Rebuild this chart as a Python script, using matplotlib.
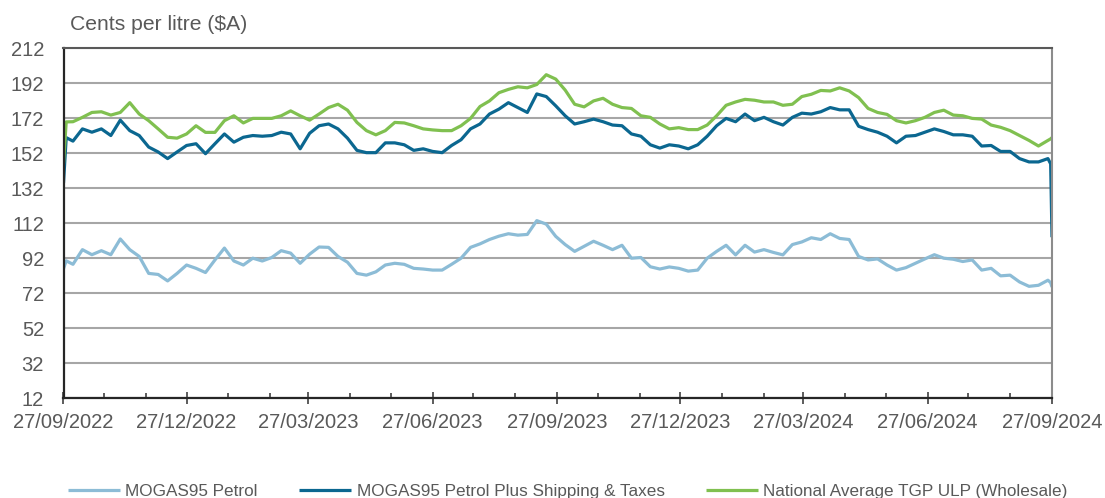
import matplotlib
matplotlib.use("Agg")
import matplotlib.pyplot as plt
import matplotlib.dates as mdates
import pandas as pd
import numpy as np

plt.rcParams['font.family'] = ['Liberation Sans', 'DejaVu Sans']

# ---- data ----
start = pd.Timestamp('2022-09-27')
sample_dates = ([start, start + pd.Timedelta(days=2)]
                + list(pd.date_range('2022-10-04', periods=104, freq='7D'))
                + [pd.Timestamp('2024-09-26'), pd.Timestamp('2024-09-27')])

mogas = [86, 90.5,
         88.5, 96.9, 94, 96.3, 94, 103, 96.9, 93, 83.3, 82.7,
         79, 83.3, 88.1, 86.2, 83.8, 91, 97.8, 90.4, 88.1, 92,
         90.4, 92.4, 96.3, 94.9, 89.1, 94.3, 98.4, 98.2, 93, 89.7,
         83.3, 82.3, 84.2, 88.1, 89.1, 88.5, 86.2, 85.8, 85.2, 85.2,
         88.5, 92, 98.2, 100.2, 102.7, 104.6, 106, 105.2, 105.6, 113.5,
         111.5, 104.5, 99.8, 95.9, 98.8, 101.7, 99.4, 96.9, 99.4, 92,
         92.4, 87.1, 85.8, 87, 86.2, 84.6, 85.2, 92, 95.9, 99.4,
         93.9, 99.4, 95.5, 96.9, 95.3, 93.9, 99.8, 101.3, 103.7, 102.7,
         106, 103.3, 102.7, 93, 91, 91.6, 88.1, 85.2, 86.6, 89.1,
         91.6, 94, 92, 91.4, 90.1, 91, 85.2, 86.2, 81.9, 82.3,
         78.4, 75.9, 76.5, 79.4,
         78, 75.5]

mogas_plus = [135, 161,
              159, 166, 164.1, 166, 162.2, 171, 165, 162.2, 155.6, 152.8,
              149, 152.8, 156.5, 157.5, 151.8, 157.5, 163.1, 158.4, 161.2, 162.2,
              161.8, 162.2, 164.1, 163.1, 154.6, 163.5, 167.8, 168.8, 166, 160.7,
              153.7, 152.4, 152.4, 158, 158, 156.9, 153.7, 154.6, 153.1, 152.4,
              156.5, 159.8, 166, 168.8, 174.5, 177.3, 181, 178.2, 175.4, 186,
              184.5, 179.2, 173.5, 168.8, 170.1, 171.6, 170.1, 168.2, 167.8, 163.1,
              161.8, 156.9, 155, 156.9, 156.2, 154.6, 156.9, 161.8, 167.8, 172,
              170.1, 174.5, 170.7, 172.6, 170.1, 168.2, 172.6, 175, 174.5, 175.8,
              178.2, 176.9, 176.9, 167.5, 165.6, 164.1, 161.8, 158, 161.8, 162.2,
              164.1, 166, 164.5, 162.6, 162.6, 161.8, 156.2, 156.5, 153.1, 153.1,
              149, 147.1, 147.1, 149,
              146, 104]

tgp = [146, 170,
       170.1, 172.6, 175.4, 175.8, 173.9, 175.4, 181, 174.5, 170.7, 166,
       161.2, 160.7, 163.1, 167.8, 164, 164, 170.7, 173.5, 169.4, 172,
       172, 172, 173.5, 176.3, 173.5, 171, 174.5, 178.2, 180.1, 176.7,
       169.7, 165, 162.6, 165, 169.7, 169.4, 167.8, 166, 165.4, 165,
       165, 167.8, 172, 178.8, 182, 186.7, 188.6, 190.1, 189.5, 191.4,
       197, 194.5, 188.2, 180.1, 178.6, 182, 183.5, 180.1, 178.2, 177.7,
       173.5, 172.6, 168.8, 166, 166.7, 165.6, 165.6, 168.2, 173.5, 179.5,
       181.4, 182.9, 182.4, 181.4, 181.4, 179.5, 180.1, 184.5, 185.8, 188,
       187.7, 189.5, 187.7, 183.9, 177.7, 175.4, 174.3, 170.7, 169.4, 170.7,
       172.6, 175.4, 176.7, 173.9, 173.5, 172, 171.6, 168.2, 166.9, 165,
       162.2, 159.4, 156.2, 159.4,
       160.3, 161]

series_names = ['MOGAS95 Petrol', 'MOGAS95 Petrol Plus Shipping & Taxes',
                'National Average TGP ULP (Wholesale)']
series_colors = ['#8CBCD6', '#0B6790', '#80C050']

major_labels = ['27/09/2022', '27/12/2022', '27/03/2023', '27/06/2023', '27/09/2023',
                '27/12/2023', '27/03/2024', '27/06/2024', '27/09/2024']
y_ticks = [12, 32, 52, 72, 92, 112, 132, 152, 172, 192, 212]

# ---- figure ----
W, H = 1105, 498
fig = plt.figure(figsize=(W / 100, H / 100), dpi=100)
left_px, right_px, top_px, bot_px = 63.5, 1052, 48.5, 398
ax = fig.add_axes([left_px / W, 1 - bot_px / H, (right_px - left_px) / W, (bot_px - top_px) / H])

lines = []
for vals, name, col in zip([mogas, mogas_plus, tgp], series_names, series_colors):
    ln, = ax.plot(sample_dates, vals, color=col, lw=2.3, label=name,
                  solid_joinstyle='round', solid_capstyle='butt')
    lines.append(ln)

major_dates = [pd.Timestamp(pd.to_datetime(s, format='%d/%m/%Y')) for s in major_labels]
ax.set_xlim(major_dates[0], major_dates[-1])
ax.set_ylim(12, 212)
ax.set_yticks(y_ticks)
ax.set_xticks(major_dates)
ax.set_xticklabels(major_labels)
ax.xaxis.set_minor_locator(mdates.MonthLocator(bymonthday=27))

grey = '#595959'
ax.grid(axis='y', color='#A6A6A6', lw=1.5)
ax.set_axisbelow(True)
ax.tick_params(axis='y', length=0, pad=14, labelsize=14.5, labelcolor=grey)
ax.tick_params(axis='x', which='major', direction='inout', length=9, width=1.1,
               color='#303030', pad=6.5, labelsize=14.5, labelcolor=grey)
ax.tick_params(axis='x', which='minor', direction='in', length=3.6, width=1.1,
               color='#303030')

ax.spines['left'].set_color('#262626')
ax.spines['left'].set_linewidth(1.6)
ax.spines['bottom'].set_color('#262626')
ax.spines['bottom'].set_linewidth(1.6)
ax.spines['top'].set_color('#595959')
ax.spines['top'].set_linewidth(1.5)
ax.spines['right'].set_color('#8C8C8C')
ax.spines['right'].set_linewidth(1.5)

fig.text(70 / W, 1 - 30 / H, 'Cents per litre ($A)', fontsize=15.2, color=grey,
         ha='left', va='baseline')

fig.legend(handles=lines, loc='center left', bbox_to_anchor=(68 / W, 1 - 491 / H),
           ncol=3, frameon=False, fontsize=12.35, labelcolor=grey,
           handlelength=3.05, handletextpad=0.3, columnspacing=2.4,
           borderpad=0, borderaxespad=0, handleheight=0.7)

fig.savefig('out.png', dpi=100)
